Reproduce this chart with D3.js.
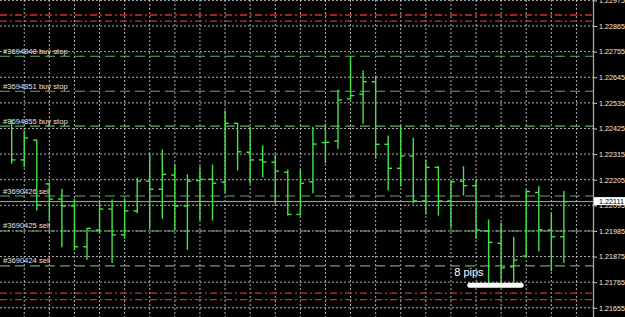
<!DOCTYPE html>
<html>
<head>
<meta charset="utf-8">
<script src="https://cdn.jsdelivr.net/npm/d3@7"></script>
<style>
  body { margin: 0; background: #000; }
  svg { display: block; }
</style>
</head>
<body>
<div id="chart"></div>
<script>
// bars (oldest left)
const opens = [1.22455, 1.22290, 1.22375, 1.22187, 1.22122, 1.22092, 1.21917, 1.21989, 1.22079, 1.21968,
  1.22071, 1.22199, 1.22164, 1.22225, 1.22092, 1.22201, 1.22207, 1.22194, 1.22447, 1.22323,
  1.22290, 1.22280, 1.22237, 1.22056, 1.22196, 1.22364, 1.22371, 1.22552, 1.22572, 1.22626,
  1.22357, 1.22254, 1.22307, 1.22114, 1.22258, 1.22114, 1.22199, 1.22179, 1.21985, 1.21932,
  1.21831, 1.21877, 1.22150, 1.21989, 1.21960];
const highs = [1.22461, 1.22414, 1.22375, 1.22190, 1.22164, 1.22121, 1.21996, 1.22110, 1.22118, 1.22122,
  1.22211, 1.22314, 1.22333, 1.22268, 1.22225, 1.22261, 1.22268, 1.22500, 1.22447, 1.22430,
  1.22350, 1.22311, 1.22247, 1.22247, 1.22430, 1.22444, 1.22590, 1.22733, 1.22672, 1.22650,
  1.22393, 1.22436, 1.22383, 1.22290, 1.22261, 1.22199, 1.22261, 1.22204, 1.22032, 1.22018,
  1.21958, 1.22161, 1.22176, 1.22061, 1.22154];
const lows = [1.22277, 1.22261, 1.22075, 1.22032, 1.21917, 1.21903, 1.21863, 1.21975, 1.21849, 1.21953,
  1.22063, 1.21999, 1.22039, 1.21989, 1.21906, 1.22032, 1.22032, 1.22151, 1.22247, 1.22190,
  1.22218, 1.22104, 1.22053, 1.22053, 1.22149, 1.22278, 1.22340, 1.22552, 1.22447, 1.22297,
  1.22161, 1.22178, 1.22106, 1.22058, 1.22053, 1.22001, 1.22139, 1.21953, 1.21761, 1.21761,
  1.21766, 1.21874, 1.21900, 1.21814, 1.21849];
const closes = [1.22290, 1.22384, 1.22096, 1.22122, 1.22092, 1.21917, 1.21996, 1.22079, 1.21968, 1.22071,
  1.22199, 1.22164, 1.22228, 1.22092, 1.22199, 1.22207, 1.22190, 1.22447, 1.22325, 1.22290,
  1.22281, 1.22242, 1.22056, 1.22190, 1.22358, 1.22366, 1.22547, 1.22566, 1.22626, 1.22357,
  1.22254, 1.22307, 1.22114, 1.22258, 1.22114, 1.22196, 1.22179, 1.21989, 1.21936, 1.21827,
  1.21860, 1.22154, 1.21990, 1.21960, 1.22111];

const priceTicks = [1.22975, 1.22865, 1.22755, 1.22645, 1.22535, 1.22425, 1.22315,
  1.22205, 1.22095, 1.21985, 1.21875, 1.21765, 1.21655];
const orderPrices = [1.22735, 1.22585, 1.22435, 1.22135, 1.21985, 1.21835];
const orderLabels = ["#3694848 buy stop", "#3694851 buy stop", "#3694855 buy stop",
  "#3690426 sell", "#3690425 sell", "#3690424 sell"];
const stopPrices = [1.22912, 1.22886, 1.21718, 1.21690];
const bidPrice = 1.22111;
const rulerLabel = "8 pips";
const rulerFrom = 36.3, rulerTo = 40.8;   // bar index span of the ruler
const rulerPrice = 1.21752;

const width = 625, height = 317;
const plotRight = 593;
const font = "'Liberation Sans', Arial, sans-serif";

const bars = opens.map((o, i) => ({i, o, h: highs[i], l: lows[i], c: closes[i]}));

const x = d3.scaleLinear().domain([0, 44]).range([11.7, 563.9]);
const y = d3.scaleLinear().domain([1.21655, 1.22865]).range([307.8, 26]);

const svg = d3.select("#chart").append("svg")
  .attr("width", width).attr("height", height)
  .style("background", "#000");

// grid
const gridIdx = d3.range(1, 46, 2);
svg.append("g").selectAll("line").data(gridIdx).enter().append("line")
  .attr("x1", d => x(d)).attr("x2", d => x(d))
  .attr("y1", 0).attr("y2", height)
  .attr("stroke", "#c4c4c4").attr("stroke-width", 0.9)
  .attr("stroke-dasharray", "2,2");
svg.append("g").selectAll("line").data(priceTicks).enter().append("line")
  .attr("x1", 0).attr("x2", plotRight)
  .attr("y1", d => y(d)).attr("y2", d => y(d))
  .attr("stroke", "#c4c4c4").attr("stroke-width", 0.9)
  .attr("stroke-dasharray", "2,2");

// stop levels (red dash-dot)
svg.append("g").selectAll("line").data(stopPrices).enter().append("line")
  .attr("x1", 0).attr("x2", plotRight)
  .attr("y1", d => y(d)).attr("y2", d => y(d))
  .attr("stroke", "#cc3030").attr("stroke-width", 1.4)
  .attr("stroke-dasharray", "7,3,2,3");

// pending orders (green dashed)
const orders = svg.append("g");
orders.selectAll("line").data(orderPrices).enter().append("line")
  .attr("x1", 0).attr("x2", plotRight)
  .attr("y1", d => y(d)).attr("y2", d => y(d))
  .attr("stroke", "#6aa86a").attr("stroke-width", 1.1)
  .attr("stroke-dasharray", "10,5");

// bid line
svg.append("line")
  .attr("x1", 0).attr("x2", plotRight)
  .attr("y1", y(bidPrice)).attr("y2", y(bidPrice))
  .attr("stroke", "#a8a8a8").attr("stroke-width", 1);

// OHLC bars
const g = svg.append("g").attr("stroke", "#44e444").attr("stroke-width", 1.4);
g.selectAll(".hl").data(bars).enter().append("line")
  .attr("x1", d => x(d.i)).attr("x2", d => x(d.i))
  .attr("y1", d => y(d.h) - 0.5).attr("y2", d => y(d.l) + 0.5);
g.selectAll(".op").data(bars).enter().append("line")
  .attr("x1", d => x(d.i) - 3.8).attr("x2", d => x(d.i))
  .attr("y1", d => y(d.o)).attr("y2", d => y(d.o));
g.selectAll(".cl").data(bars).enter().append("line")
  .attr("x1", d => x(d.i)).attr("x2", d => x(d.i) + 3.8)
  .attr("y1", d => y(d.c)).attr("y2", d => y(d.c));

// order descriptions
orders.selectAll("text").data(orderPrices).enter().append("text")
  .attr("x", 3).attr("y", d => y(d) - 2.5)
  .attr("fill", "#e6e6e6").attr("font-family", font).attr("font-size", 7.6)
  .text((d, i) => orderLabels[i]);

// right price scale
svg.append("line")
  .attr("x1", plotRight + 0.5).attr("x2", plotRight + 0.5)
  .attr("y1", 0).attr("y2", height)
  .attr("stroke", "#a8a8a8").attr("stroke-width", 1.3);

const axis = d3.axisRight(y)
  .tickValues(priceTicks)
  .tickFormat(d3.format(".5f"))
  .tickSize(3).tickPadding(2);
const ax = svg.append("g").attr("transform", `translate(${plotRight + 1},0)`).call(axis);
ax.select(".domain").remove();
ax.selectAll(".tick line").attr("stroke", "#d0d0d0");
ax.selectAll(".tick text").attr("fill", "#ececec")
  .attr("font-family", font).attr("font-size", 7.2);

// bid price box
const by = y(bidPrice);
svg.append("rect")
  .attr("x", plotRight + 1).attr("y", by - 4.5)
  .attr("width", width - plotRight - 1).attr("height", 8)
  .attr("fill", "#fff");
svg.append("text")
  .attr("x", plotRight + 6).attr("y", by + 2.4)
  .attr("fill", "#000").attr("font-family", font).attr("font-size", 7.2)
  .text(d3.format(".5f")(bidPrice));

// ruler annotation
svg.append("rect")
  .attr("x", x(rulerFrom)).attr("y", y(rulerPrice) - 2.5)
  .attr("width", x(rulerTo) - x(rulerFrom)).attr("height", 5)
  .attr("rx", 2.5).attr("fill", "#fff");
svg.append("text")
  .attr("x", x(rulerFrom) - 13).attr("y", y(rulerPrice) - 9)
  .attr("fill", "#fff").attr("font-family", font).attr("font-size", 11)
  .text(rulerLabel);
</script>
</body>
</html>
